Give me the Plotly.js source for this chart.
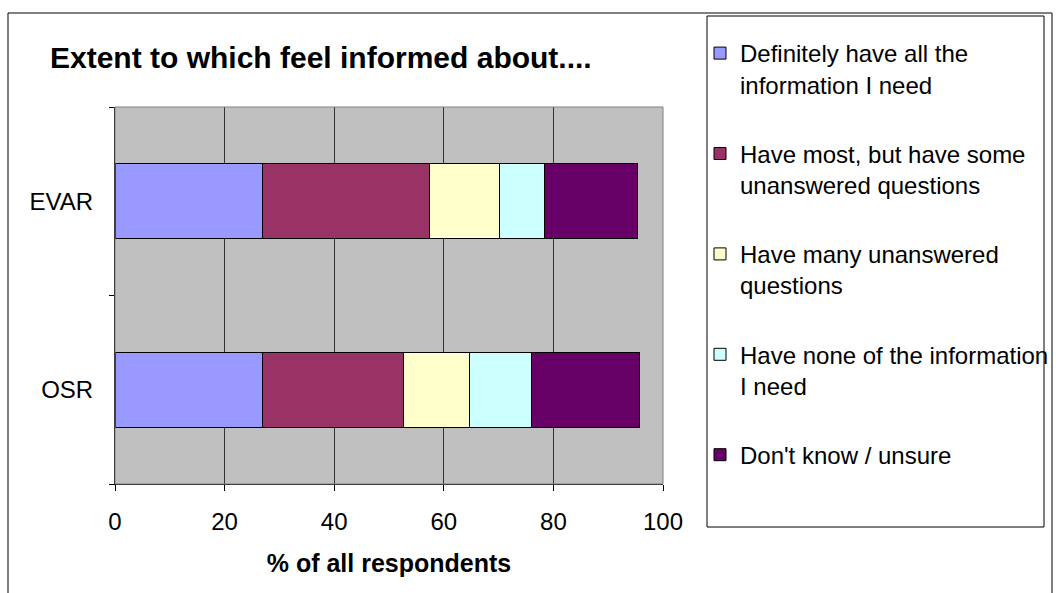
<!DOCTYPE html>
<html>
<head>
<meta charset="utf-8">
<script src="https://cdn.plot.ly/plotly-3.0.1.min.js"></script>
<style>html,body{margin:0;padding:0;background:#fff;}#chart{width:1063px;height:593px;}</style>
</head>
<body>
<div id="chart"></div>
<script>
const categories = ['OSR', 'EVAR'];
const seriesNames = [
  'Definitely have all the<br>information I need',
  'Have most, but have some<br>unanswered questions',
  'Have many unanswered<br>questions',
  'Have none of the information<br>I need',
  "Don't know / unsure"
];
const definitelyAll = [27.0, 27.0];
const haveMost = [25.6, 30.3];
const haveMany = [12.1, 12.8];
const haveNone = [11.3, 8.3];
const dontKnow = [19.7, 17.0];
const seriesColors = ['#9999FF', '#993366', '#FFFFCC', '#CCFFFF', '#660066'];
const xTicks = [0, 20, 40, 60, 80, 100];

const seriesValues = [definitelyAll, haveMost, haveMany, haveNone, dontKnow];
const FONT = 'Liberation Sans, Arial, sans-serif';

const traces = seriesValues.map((vals, i) => ({
  type: 'bar',
  orientation: 'h',
  y: categories,
  x: vals,
  name: seriesNames[i],
  legendgroup: 'g' + i,
  marker: {color: seriesColors[i], line: {color: '#000', width: 1}},
  hoverinfo: 'x+name'
}));

const layout = {
  width: 1063, height: 593,
  margin: {l: 115, r: 400, t: 107, b: 109, autoexpand: false},
  paper_bgcolor: '#fff',
  plot_bgcolor: '#C0C0C0',
  barmode: 'stack',
  bargap: 0.6,
  font: {family: FONT, color: '#000', size: 24},
  title: {
    text: '<b>Extent to which feel informed about....</b>',
    font: {family: FONT, size: 30, color: '#000'},
    x: 50/1063, xanchor: 'left', xref: 'container',
    y: 1 - 57/593, yanchor: 'middle', yref: 'container'
  },
  xaxis: {
    range: [0, 100],
    tickvals: xTicks,
    ticktext: xTicks.map(String),
    showgrid: true, gridcolor: '#333', gridwidth: 1,
    zeroline: false,
    showline: true, linecolor: '#000', linewidth: 1,
    ticks: 'outside', ticklen: 6, tickcolor: '#000',
    tickfont: {size: 24},
    ticklabelstandoff: 10,
    title: {text: '<b>% of all respondents</b>', font: {size: 25}, standoff: 20},
    fixedrange: true
  },
  yaxis: {
    type: 'category',
    categoryorder: 'array', categoryarray: categories,
    range: [-0.5, 1.5],
    showgrid: false, zeroline: false,
    showline: true, linecolor: '#000', linewidth: 1,
    ticks: 'outside', ticklen: 5, tickcolor: '#000',
    tickson: 'boundaries',
    tickfont: {size: 24},
    ticklabelstandoff: 16,
    fixedrange: true
  },
  showlegend: true,
  legend: {
    x: (700 - 115)/548, xanchor: 'left',
    y: 1 + (107 - 31)/377, yanchor: 'top',
    traceorder: 'grouped',
    tracegroupgap: 35,
    valign: 'top',
    maxheight: 800,
    bgcolor: 'rgba(0,0,0,0)',
    borderwidth: 0,
    font: {family: FONT, size: 24, color: '#000'}
  },
  shapes: [
    {type: 'rect', xref: 'paper', yref: 'paper', x0: 0, x1: 1, y0: 0, y1: 1,
     line: {color: '#808080', width: 1}, fillcolor: 'rgba(0,0,0,0)', layer: 'above'},
    {type: 'rect', xref: 'paper', yref: 'paper',
     x0: (707-115)/548, x1: (1044-115)/548,
     y0: 1 - (527-107)/377, y1: 1 + (107-16)/377,
     line: {color: '#000', width: 1}, fillcolor: 'rgba(0,0,0,0)'},
    {type: 'rect', xref: 'paper', yref: 'paper',
     x0: (8-115)/548, x1: (1052-115)/548,
     y0: -0.5, y1: 1 + (107-13)/377,
     line: {color: '#000', width: 1}, fillcolor: 'rgba(0,0,0,0)'}
  ]
};

Plotly.newPlot('chart', traces, layout, {displayModeBar: false});
</script>
</body>
</html>
